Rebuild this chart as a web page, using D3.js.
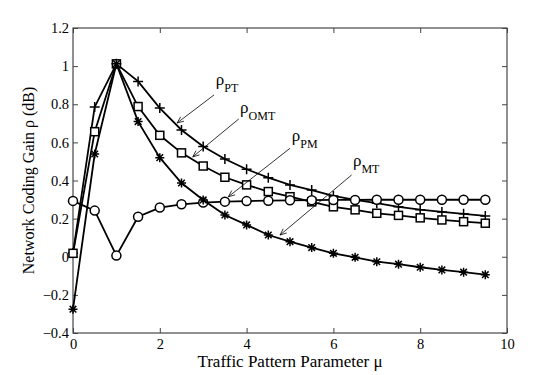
<!DOCTYPE html>
<html>
<head>
<meta charset="utf-8">
<script src="https://cdn.jsdelivr.net/npm/d3@7"></script>
<style>
  body { margin: 0; background: #fff; }
  svg text { font-family: "Liberation Serif", "Times New Roman", serif; }
</style>
</head>
<body>
<script>
// traffic pattern parameter mu
const mu = [0, 0.5, 1, 1.5, 2, 2.5, 3, 3.5, 4, 4.5, 5, 5.5, 6, 6.5, 7, 7.5, 8, 8.5, 9, 9.5];

// network coding gain (dB) per scheme
const rhoPT  = [0.02, 0.786, 1.012, 0.92, 0.78, 0.665, 0.578, 0.513, 0.459, 0.415, 0.377, 0.35, 0.319, 0.298, 0.281, 0.262, 0.247, 0.235, 0.225, 0.214];
const rhoOMT = [0.018, 0.656, 1.012, 0.788, 0.637, 0.545, 0.476, 0.417, 0.377, 0.342, 0.315, 0.288, 0.262, 0.246, 0.228, 0.217, 0.204, 0.193, 0.184, 0.176];
const rhoPM  = [0.293, 0.242, 0.006, 0.21, 0.258, 0.275, 0.284, 0.289, 0.292, 0.294, 0.296, 0.297, 0.298, 0.298, 0.299, 0.299, 0.299, 0.299, 0.299, 0.299];
const rhoMT  = [-0.275, 0.539, 1.012, 0.709, 0.52, 0.387, 0.298, 0.219, 0.167, 0.114, 0.079, 0.048, 0.018, -0.003, -0.026, -0.039, -0.055, -0.069, -0.081, -0.094];

const xTicks = [0, 2, 4, 6, 8, 10];
const yTicks = [-0.4, -0.2, 0, 0.2, 0.4, 0.6, 0.8, 1, 1.2];

// annotation labels: text anchor, arrow tail, arrow tip (data units)
const labels = [
  { sub: "PT",  tx: 3.29, ty: 0.90,  x1: 3.25, y1: 0.849, x2: 2.40, y2: 0.702 },
  { sub: "OMT", tx: 3.85, ty: 0.754, x1: 3.82, y1: 0.723, x2: 2.76, y2: 0.524 },
  { sub: "PM",  tx: 5.04, ty: 0.607, x1: 5.0,  y1: 0.569, x2: 3.58, y2: 0.315 },
  { sub: "MT",  tx: 6.45, ty: 0.476, x1: 6.42, y1: 0.429, x2: 4.77, y2: 0.114 }
];

const width = 559, height = 375;
const margin = { top: 28, right: 52, bottom: 42, left: 73 };

const x = d3.scaleLinear().domain([0, 10]).range([margin.left, width - margin.right]);
const y = d3.scaleLinear().domain([-0.4, 1.2]).range([height - margin.bottom, margin.top]);

const svg = d3.select("body").append("svg")
  .attr("width", width)
  .attr("height", height);

const fmt = d => d < 0 ? "\u2212" + Math.abs(d) : String(d);
const tickLen = 5;
const serif = "Liberation Serif, Times New Roman, serif";

// frame with inward ticks on all sides
svg.append("rect")
  .attr("x", x(0)).attr("y", y(1.2))
  .attr("width", x(10) - x(0)).attr("height", y(-0.4) - y(1.2))
  .attr("fill", "none").attr("stroke", "#222").attr("stroke-width", 1);

svg.append("g")
  .attr("transform", `translate(0,${y(-0.4)})`)
  .call(d3.axisBottom(x).tickValues(xTicks).tickSize(-tickLen).tickPadding(6).tickFormat(fmt))
  .call(g => g.attr("font-family", serif).attr("font-size", 14.5))
  .call(g => g.select(".domain").remove())
  .call(g => g.selectAll("text").attr("fill", "#000"));

svg.append("g")
  .attr("transform", `translate(0,${y(1.2)})`)
  .call(d3.axisTop(x).tickValues(xTicks).tickSize(-tickLen).tickFormat(""))
  .call(g => g.select(".domain").remove());

svg.append("g")
  .attr("transform", `translate(${x(0)},0)`)
  .call(d3.axisLeft(y).tickValues(yTicks).tickSize(-tickLen).tickPadding(4).tickFormat(fmt))
  .call(g => g.attr("font-family", serif).attr("font-size", 14.5))
  .call(g => g.select(".domain").remove())
  .call(g => g.selectAll("text").attr("fill", "#000"));

svg.append("g")
  .attr("transform", `translate(${x(10)},0)`)
  .call(d3.axisRight(y).tickValues(yTicks).tickSize(-tickLen).tickFormat(""))
  .call(g => g.select(".domain").remove());

svg.selectAll(".tick line").attr("stroke", "#444");

// axis titles
svg.append("text")
  .attr("x", (x(0) + x(10)) / 2).attr("y", 367)
  .attr("text-anchor", "middle").attr("font-size", 17)
  .attr("font-family", serif)
  .text("Traffic Pattern Parameter \u03bc");

svg.append("text")
  .attr("transform", `translate(34,${(y(-0.4) + y(1.2)) / 2}) rotate(-90)`)
  .attr("text-anchor", "middle").attr("font-size", 16)
  .attr("font-family", serif)
  .text("Network Coding Gain  \u03c1 (dB)");

// series
const line = d3.line().x(d => x(d[0])).y(d => y(d[1]));
const series = [
  { vals: rhoPT,  marker: "plus" },
  { vals: rhoOMT, marker: "square" },
  { vals: rhoPM,  marker: "circle" },
  { vals: rhoMT,  marker: "star" }
];

series.forEach(s => {
  const pts = mu.map((m, i) => [m, s.vals[i]]);
  svg.append("path")
    .datum(pts)
    .attr("fill", "none").attr("stroke", "#000").attr("stroke-width", 1.8)
    .attr("d", line);

  const g = svg.append("g").selectAll("g")
    .data(pts).join("g")
    .attr("transform", d => `translate(${x(d[0])},${y(d[1])})`)
    .attr("fill", "none").attr("stroke", "#000").attr("stroke-width", 1.5);

  if (s.marker === "plus") {
    g.append("path").attr("d", "M-5,0H5M0,-5V5");
  } else if (s.marker === "square") {
    g.append("rect").attr("x", -4).attr("y", -4).attr("width", 8).attr("height", 8).attr("fill", "#fff");
  } else if (s.marker === "circle") {
    g.append("circle").attr("r", 4.5).attr("fill", "#fff");
  } else {
    g.append("path").attr("d", "M-4.5,0H4.5M0,-4.5V4.5M-3.3,-3.3L3.3,3.3M-3.3,3.3L3.3,-3.3");
  }
});

// annotations
labels.forEach(l => {
  const t = svg.append("text")
    .attr("x", x(l.tx)).attr("y", y(l.ty))
    .attr("font-family", serif)
    .attr("font-size", 17);
  t.append("tspan").text("\u03c1");
  t.append("tspan").attr("font-size", 12).attr("dy", 7).text(l.sub);

  const x1 = x(l.x1), y1 = y(l.y1), x2 = x(l.x2), y2 = y(l.y2);
  svg.append("line")
    .attr("x1", x1).attr("y1", y1).attr("x2", x2).attr("y2", y2)
    .attr("stroke", "#000").attr("stroke-width", 0.8);
  const ang = Math.atan2(y1 - y2, x1 - x2);
  const len = 7, spread = 0.4;
  svg.append("path")
    .attr("d", `M${x2 + len * Math.cos(ang + spread)},${y2 + len * Math.sin(ang + spread)}L${x2},${y2}L${x2 + len * Math.cos(ang - spread)},${y2 + len * Math.sin(ang - spread)}`)
    .attr("fill", "none").attr("stroke", "#000").attr("stroke-width", 0.8);
});
</script>
</body>
</html>
